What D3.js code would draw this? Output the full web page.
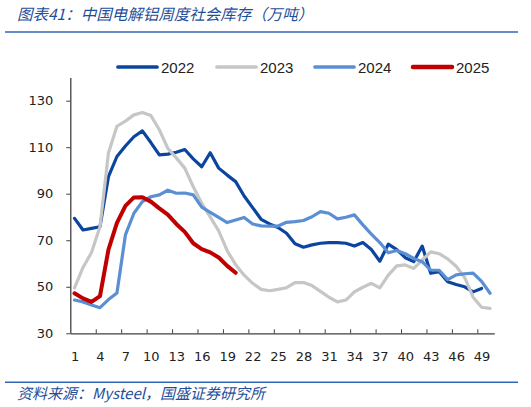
<!DOCTYPE html>
<html>
<head>
<meta charset="utf-8">
<script src="https://cdn.jsdelivr.net/npm/d3@7"></script>
<style>
  body { margin: 0; background: #fff; }
  svg { display: block; }
</style>
</head>
<body>
<svg width="531" height="407"></svg>
<script>
// weekly social inventory of electrolytic aluminium, 10k tonnes
var weeks = d3.range(1, 51);
var xTickLabels = [1, 4, 7, 10, 13, 16, 19, 22, 25, 28, 31, 34, 37, 40, 43, 46, 49];
var yTickLabels = [30, 50, 70, 90, 110, 130];

var v2022 = [79.4, 74.4, 75.1, 75.8, 97.3, 106, 110.5, 114.5, 117, 112,
             106.7, 107, 107.8, 109, 105, 101.6, 107.6, 101, 98, 95.2,
             89, 84, 79, 77, 75.5, 73, 68.5, 67, 68, 68.7,
             69, 69, 68.7, 67.5, 69, 66, 61, 68.3, 66, 62.5,
             60.8, 67.5, 55.8, 56.5, 52.2, 51, 50, 47.8, 49.3];
var v2023 = [49.5, 58.3, 64.7, 75.8, 107.5, 119, 121.2, 123.9, 124.9, 123.6,
             117.5, 109.5, 105.4, 101, 93, 85.9, 80, 74, 65.5, 59.5,
             55, 51.5, 48.9, 48.3, 48.9, 49.6, 51.8, 51.8, 50.5, 48,
             45.5, 43.5, 44.3, 47.8, 49.8, 51.5, 49.5, 55, 59, 59.4,
             57.9, 61.5, 65, 64.2, 62, 58.8, 54, 45.5, 41.2, 40.7];
var v2024 = [44.3, 43.5, 42.2, 41, 44.5, 47.3, 72.3, 81.6, 86.6, 88.7,
             89.5, 91.5, 90.2, 90.3, 89.5, 84.2, 82, 79.8, 77.6, 78.7,
             79.8, 77, 76.2, 76.1, 76.1, 77.7, 78, 78.5, 80.1, 82.3,
             81.6, 79.2, 79.9, 80.9, 76.6, 72.6, 69, 64.6, 65.6, 64.2,
             62.2, 60.8, 57.2, 57.1, 53.1, 55.1, 55.6, 55.9, 52.3, 47.2];
var v2025 = [47.2, 45, 43.5, 46, 66, 77.5, 84.8, 88.4, 88.5, 86.6,
             83.7, 81, 77, 73.6, 68.7, 66.2, 64.8, 62.6, 59, 56];

var seriesNames = ["2022", "2023", "2024", "2025"];
var seriesValues = [v2022, v2023, v2024, v2025];
var seriesColors = ["#0b45a0", "#c6c6c6", "#5b8fd3", "#c00000"];
var seriesWidths = [3.2, 3.2, 3.2, 4];

var svg = d3.select("svg");
var plotLeft = 70.3, plotRight = 494.3, plotTop = 77.4, plotBottom = 333.3;

var x = d3.scaleLinear().domain([0.5, 50.5]).range([plotLeft, plotRight]);
var y = d3.scaleLinear().domain([30, 140]).range([plotBottom, plotTop]);

// title and rules
svg.append("text")
    .attr("x", 17).attr("y", 20)
    .attr("font-family", "Noto Sans CJK SC")
    .attr("font-size", 15.5)
    .attr("font-style", "italic")
    .attr("fill", "#1f4e9a")
    .text("图表41：中国电解铝周度社会库存（万吨）");
svg.append("line")
    .attr("x1", 5).attr("x2", 518).attr("y1", 32).attr("y2", 32)
    .attr("stroke", "#3466b8").attr("stroke-width", 1.5);
svg.append("line")
    .attr("x1", 5).attr("x2", 518).attr("y1", 382.3).attr("y2", 382.3)
    .attr("stroke", "#3466b8").attr("stroke-width", 1.5);
svg.append("text")
    .attr("x", 17).attr("y", 399)
    .attr("font-family", "Noto Sans CJK SC")
    .attr("font-size", 15)
    .attr("font-style", "italic")
    .attr("fill", "#1f4e9a")
    .text("资料来源：Mysteel，国盛证券研究所");

// y axis
var yAxis = svg.append("g")
    .attr("transform", "translate(" + plotLeft + ",0)")
    .call(d3.axisLeft(y).tickValues(yTickLabels).tickSize(4).tickPadding(13).tickSizeOuter(0));
yAxis.select(".domain").attr("stroke", "#404040").attr("stroke-width", 1.3);
yAxis.selectAll(".tick line").attr("stroke", "#404040");
yAxis.selectAll("text")
    .attr("font-family", "DejaVu Sans").attr("font-size", 13).attr("fill", "#222");

// x axis: labels at category centres, marks between categories
var xAxis = svg.append("g")
    .attr("transform", "translate(0," + plotBottom + ")")
    .call(d3.axisBottom(x).tickValues(xTickLabels).tickSize(0).tickPadding(18).tickSizeOuter(0));
xAxis.select(".domain").attr("stroke", "#404040").attr("stroke-width", 1.3);
xAxis.selectAll("text")
    .attr("font-family", "DejaVu Sans").attr("font-size", 13).attr("fill", "#222");

var xMarks = svg.append("g")
    .attr("transform", "translate(0," + plotBottom + ")")
    .call(d3.axisBottom(x).tickValues(xTickLabels.slice(0, -1).map(d => d + 2.5))
        .tickSize(-4).tickFormat("").tickSizeOuter(0));
xMarks.select(".domain").remove();
xMarks.selectAll(".tick line").attr("stroke", "#404040");

// lines
var line = d3.line()
    .x((d, i) => x(weeks[i]))
    .y(d => y(d));

svg.selectAll("path.series")
    .data(seriesValues)
    .enter()
    .append("path")
    .attr("class", "series")
    .attr("d", d => line(d))
    .attr("fill", "none")
    .attr("stroke", (d, i) => seriesColors[i])
    .attr("stroke-width", (d, i) => seriesWidths[i])
    .attr("stroke-linejoin", "round")
    .attr("stroke-linecap", "round");

// legend
var legendX = [118, 217, 315, 413];
var legend = svg.selectAll("g.legend")
    .data(seriesNames)
    .enter()
    .append("g")
    .attr("class", "legend")
    .attr("transform", (d, i) => "translate(" + legendX[i] + ",67)");
legend.append("line")
    .attr("x1", 0).attr("x2", 39).attr("y1", 0).attr("y2", 0)
    .attr("stroke", (d, i) => seriesColors[i])
    .attr("stroke-width", (d, i) => seriesWidths[i] + 0.5)
    .attr("stroke-linecap", "round");
legend.append("text")
    .attr("x", 43).attr("y", 5.5)
    .attr("font-family", "Liberation Sans")
    .attr("font-size", 15)
    .attr("fill", "#222")
    .text(d => d);
</script>
</body>
</html>
